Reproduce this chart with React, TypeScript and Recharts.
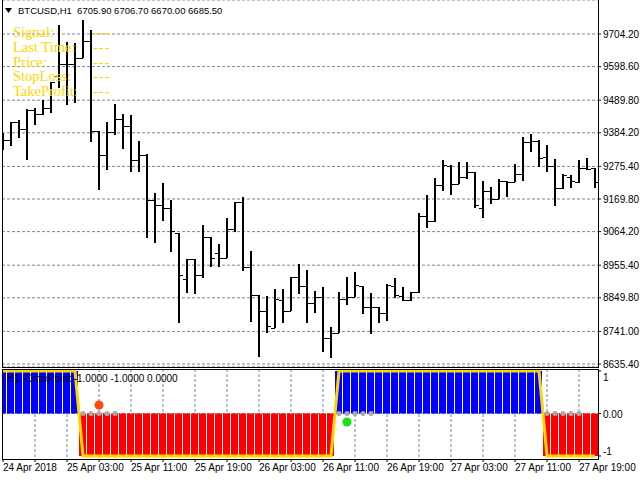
import React from 'react';
import { ComposedChart, Bar, Line, Scatter, XAxis, YAxis, CartesianGrid, Cell } from 'recharts';

// BTCUSD H1 bars, 24 Apr 19:00 .. 27 Apr 21:00
const OPEN = [
    9360.9, 9360.9, 9419.2, 9396.5, 9458.0, 9445.1, 9464.5, 9568.2, 9607.0, 9607.0,
    9626.4, 9681.5, 9390.0, 9312.3, 9386.8, 9428.9, 9406.2, 9296.1, 9312.3, 9166.5,
    9150.3, 9140.6, 9059.7, 8910.7, 8975.4, 8923.6, 9046.7, 8994.9, 8978.7, 9072.6,
    9160.1, 8949.5, 8858.9, 8807.0, 8752.0, 8842.7, 8807.0, 8917.2, 8888.0, 8832.9,
    8852.4, 8719.6, 8735.8, 8845.9, 8852.4, 8888.0, 8820.0, 8820.0, 8800.6, 8888.0,
    8855.6, 8842.7, 8868.6, 9114.7, 9098.5, 9215.1, 9276.7, 9218.4, 9241.0, 9257.2,
    9140.6, 9195.7, 9169.8, 9228.1, 9224.8, 9250.7, 9354.4, 9357.6, 9305.8, 9276.7,
    9205.4, 9241.0, 9224.8, 9270.2, 9270.2,
];
const HIGH = [
    9383.5, 9419.2, 9425.6, 9461.3, 9464.5, 9490.4, 9548.7, 9733.3, 9678.3, 9675.0,
    9749.5, 9717.1, 9390.0, 9419.2, 9477.5, 9445.1, 9441.8, 9357.6, 9315.5, 9189.2,
    9221.6, 9166.5, 9059.7, 8975.4, 8975.4, 9085.6, 9046.7, 9024.0, 9108.2, 9160.1,
    9176.3, 9001.4, 8858.9, 8855.6, 8878.3, 8878.3, 8917.2, 8959.3, 8939.8, 8871.8,
    8884.8, 8755.2, 8868.6, 8917.2, 8933.3, 8888.0, 8865.3, 8820.0, 8894.5, 8913.9,
    8884.8, 8868.6, 9124.4, 9182.7, 9237.8, 9296.1, 9279.9, 9289.6, 9289.6, 9257.2,
    9228.1, 9208.6, 9234.6, 9228.1, 9283.1, 9370.6, 9380.3, 9360.9, 9344.7, 9299.3,
    9250.7, 9247.5, 9296.1, 9302.6, 9270.2,
];
const LOW = [
    9328.5, 9341.4, 9367.4, 9296.1, 9409.4, 9441.8, 9448.3, 9529.3, 9474.2, 9480.7,
    9626.4, 9354.4, 9198.9, 9263.7, 9377.1, 9331.7, 9257.2, 9257.2, 9043.5, 9027.3,
    9098.5, 8998.1, 8768.2, 8865.3, 8862.1, 8913.9, 8949.5, 8949.5, 8978.7, 9062.9,
    8936.6, 8771.4, 8658.0, 8735.8, 8752.0, 8768.2, 8807.0, 8862.1, 8768.2, 8800.6,
    8674.2, 8654.8, 8735.8, 8826.5, 8852.4, 8797.3, 8732.5, 8768.2, 8774.6, 8849.1,
    8839.4, 8839.4, 8865.3, 9075.9, 9095.3, 9195.7, 9182.7, 9218.4, 9234.6, 9140.6,
    9108.2, 9153.6, 9169.8, 9176.3, 9224.8, 9228.1, 9322.0, 9273.4, 9257.2, 9147.1,
    9202.2, 9205.4, 9221.6, 9263.7, 9205.4,
];
const CLOSE = [
    9360.9, 9419.2, 9396.5, 9458.0, 9445.1, 9464.5, 9548.7, 9607.0, 9607.0, 9626.4,
    9681.5, 9390.0, 9312.3, 9386.8, 9428.9, 9406.2, 9296.1, 9312.3, 9166.5, 9150.3,
    9140.6, 9066.1, 8923.6, 8975.4, 8923.6, 9046.7, 8978.7, 8978.7, 9072.6, 9160.1,
    8949.5, 8858.9, 8807.0, 8758.5, 8845.9, 8807.0, 8917.2, 8888.0, 8832.9, 8852.4,
    8719.6, 8735.8, 8845.9, 8852.4, 8891.2, 8820.0, 8820.0, 8800.6, 8891.2, 8858.9,
    8842.7, 8868.6, 9114.7, 9098.5, 9215.1, 9279.9, 9218.4, 9241.0, 9257.2, 9150.3,
    9195.7, 9169.8, 9228.1, 9224.8, 9250.7, 9354.4, 9357.6, 9302.6, 9276.7, 9205.4,
    9247.5, 9228.1, 9270.2, 9266.9, 9224.8,
];

// CmixPoint histogram / signal line (+1 buy side, -1 sell side)
const TREND = [
    1, 1, 1, 1, 1, 1, 1, 1, 1, 1,
    -1, -1, -1, -1, -1, -1, -1, -1, -1, -1,
    -1, -1, -1, -1, -1, -1, -1, -1, -1, -1,
    -1, -1, -1, -1, -1, -1, -1, -1, -1, -1,
    -1, -1, 1, 1, 1, 1, 1, 1, 1, 1,
    1, 1, 1, 1, 1, 1, 1, 1, 1, 1,
    1, 1, 1, 1, 1, 1, 1, 1, -1, -1,
    -1, -1, -1, -1, -1,
];
const DOT_BARS = [10, 11, 12, 13, 14, 42, 43, 44, 45, 46, 68, 69, 70, 71, 72];
const SELL_SIGNAL = [{ i: 12, v: 0.2 }];
const BUY_SIGNAL = [{ i: 43, v: -0.2 }];

const PRICE_TICKS = [8635.4, 8741.0, 8849.8, 8955.4, 9064.2, 9169.8, 9275.4, 9384.2, 9489.8, 9598.6, 9704.2];
const LEVEL_TICKS = [-1, 0, 1];
const GRID_BARS = [4, 8, 12, 16, 20, 24, 28, 32, 36, 40, 44, 48, 52, 56, 60, 64, 68, 72];
const TIME_TICKS = [0, 4, 8, 12, 16, 20, 24, 28, 32, 36, 40, 44, 48, 52, 56, 60, 64, 68, 72];
const TIME_LABELS = [
    '24 Apr 2018', '', '25 Apr 03:00', '', '25 Apr 11:00', '', '25 Apr 19:00', '',
    '26 Apr 03:00', '', '26 Apr 11:00', '', '26 Apr 19:00', '', '27 Apr 03:00', '',
    '27 Apr 11:00', '', '27 Apr 19:00',
];
const INFO_LINES = ['Signal:', 'Last Time:', 'Price:', 'StopLoss:', 'TakeProfit:'];

const FONT = '"Liberation Sans", Arial, sans-serif';
const SERIF = '"Liberation Serif", "Times New Roman", serif';
const GRID = '#778899';
const GOLD = '#FFD700';

const priceData = OPEN.map((o, i) => ({ i, o, h: HIGH[i], l: LOW[i], c: CLOSE[i], range: [LOW[i], HIGH[i]] }));
const indData = TREND.map((t, i) => ({ i, trend: t }));
const dotData = DOT_BARS.map((i) => ({ i, v: 0 }));

function OhlcBar(props: any) {
    const { x, y, width, height, payload } = props;
    if (!payload) return null;
    const top = Math.min(y, y + height);
    const len = Math.max(Math.abs(height), 1);
    const span = payload.h - payload.l;
    const at = (v: number) => Math.round(span > 0 ? top + ((payload.h - v) / span) * len : top) + 0.5;
    const cx = Math.round(x + width / 2);
    return (
        <g>
            <line x1={cx} x2={cx} y1={top} y2={top + len} stroke="#000" strokeWidth={2} />
            <line x1={cx - 4} x2={cx} y1={at(payload.o)} y2={at(payload.o)} stroke="#000" strokeWidth={1} />
            <line x1={cx} x2={cx + 4} y1={at(payload.c)} y2={at(payload.c)} stroke="#000" strokeWidth={1} />
        </g>
    );
}

function LevelTick({ x, y, payload }: any) {
    const v = payload.value;
    const shift = v === 1 ? 7 : v === -1 ? -4 : 1.5;
    return (
        <text x={x} y={y + shift} dy="0.35em" textAnchor="start" fontSize={10} fontFamily={FONT} fill="#000">
            {v === 0 ? '0.00' : String(v)}
        </text>
    );
}

function TimeTick({ x, y, index }: any) {
    const label = TIME_LABELS[index] ?? '';
    if (!label) return null;
    return (
        <text x={x} y={y} dy="0.71em" textAnchor="start" fontSize={10} fontFamily={FONT} fill="#000">
            {label}
        </text>
    );
}

export default function App() {
    return (
        <div style={{ position: 'absolute', left: 0, top: 0, width: 640, height: 480, background: '#fff', overflow: 'hidden' }}>
            <div style={{ position: 'absolute', left: 0, top: 0 }}>
                {/* extra bottom margin keeps the lowest price label inside the svg */}
                <ComposedChart width={640} height={380} data={priceData} margin={{ top: 0, right: 0, bottom: 13, left: 2 }}>
                    <CartesianGrid stroke={GRID} strokeDasharray="3 2" verticalValues={GRID_BARS} />
                    <XAxis dataKey="i" type="number" domain={[-0.125, 74.375]} allowDataOverflow ticks={GRID_BARS}
                        height={0} tick={false} tickLine={false} axisLine={false} />
                    <YAxis orientation="right" type="number" width={42} domain={[8625.7, 9814.3]} allowDataOverflow
                        ticks={PRICE_TICKS} interval={0} tickFormatter={(v: number) => v.toFixed(2)}
                        tickSize={3} tickMargin={2} axisLine={false} tickLine={{ stroke: '#000' }}
                        tick={{ fontSize: 10, fontFamily: FONT, fill: '#000' }} />
                    <Bar dataKey="range" barSize={8} shape={OhlcBar} isAnimationActive={false} />
                </ComposedChart>
            </div>

            <div style={{ position: 'absolute', left: 0, top: 368 }}>
                <ComposedChart width={640} height={112} data={indData} margin={{ top: 1, right: 0, bottom: 0, left: 2 }}>
                    <CartesianGrid stroke={GRID} strokeDasharray="3 2" verticalValues={GRID_BARS} horizontalValues={[0]} />
                    <XAxis dataKey="i" type="number" domain={[-0.125, 74.375]} allowDataOverflow ticks={TIME_TICKS}
                        interval={0} height={21} tickSize={3} tickMargin={2} axisLine={false}
                        tickLine={{ stroke: '#000' }} tick={<TimeTick />} />
                    <YAxis orientation="right" type="number" width={42} domain={[-1.0706, 1.047]} allowDataOverflow
                        ticks={LEVEL_TICKS} interval={0} tickSize={3} tickMargin={2} axisLine={false}
                        tickLine={{ stroke: '#000' }} tick={<LevelTick />} />
                    <Bar dataKey="trend" barSize={7} isAnimationActive={false}>
                        {indData.map((d) => (
                            <Cell key={d.i} fill={d.trend > 0 ? '#0000FF' : '#FF0000'} />
                        ))}
                    </Bar>
                    <Line dataKey="trend" type="linear" stroke={GOLD} strokeWidth={3} dot={false} isAnimationActive={false} />
                    <Scatter data={dotData} dataKey="v" isAnimationActive={false}
                        shape={(p: any) => <circle cx={p.cx} cy={p.cy} r={2.5} fill="#A9A9A9" />} />
                    <Scatter data={SELL_SIGNAL} dataKey="v" isAnimationActive={false}
                        shape={(p: any) => <circle cx={p.cx} cy={p.cy} r={4.5} fill="#FF4A10" />} />
                    <Scatter data={BUY_SIGNAL} dataKey="v" isAnimationActive={false}
                        shape={(p: any) => <circle cx={p.cx} cy={p.cy} r={4.5} fill="#14E614" />} />
                </ComposedChart>
            </div>

            {/* window frames */}
            <div style={{ position: 'absolute', left: 2, top: 0, width: 597, height: 368, boxSizing: 'border-box',
                borderLeft: '1px solid #000', borderRight: '1px solid #000', borderBottom: '1px solid #000', pointerEvents: 'none' }} />
            <div style={{ position: 'absolute', left: 2, top: 369, width: 597, height: 91, boxSizing: 'border-box',
                border: '1px solid #000', pointerEvents: 'none' }} />

            {/* chart header */}
            <svg style={{ position: 'absolute', left: 5, top: 8 }} width={8} height={6}>
                <polygon points="0,0 7,0 3.5,5" fill="#000" />
            </svg>
            <div style={{ position: 'absolute', left: 18, top: 5, fontFamily: FONT, fontSize: 9.5, color: '#000', whiteSpace: 'pre' }}>
                {'BTCUSD,H1  6705.90 6706.70 6670.00 6685.50'}
            </div>

            {/* indicator info panel */}
            {INFO_LINES.map((t, k) => (
                <React.Fragment key={t}>
                    <div style={{ position: 'absolute', left: 13, top: 24 + k * 14.8, fontFamily: SERIF,
                        fontSize: 14.5, lineHeight: '17px', color: GOLD, whiteSpace: 'pre' }}>{t}</div>
                    <div style={{ position: 'absolute', left: 93, top: 24 + k * 14.8, fontFamily: SERIF,
                        fontSize: 14.5, lineHeight: '17px', color: GOLD, letterSpacing: 1 }}>---</div>
                </React.Fragment>
            ))}

            <div style={{ position: 'absolute', left: 7, top: 373, fontFamily: FONT, fontSize: 10, color: '#000', whiteSpace: 'pre' }}>
                {'H1  CmixPoint -1.0000 -1.0000 0.0000'}
            </div>
        </div>
    );
}
